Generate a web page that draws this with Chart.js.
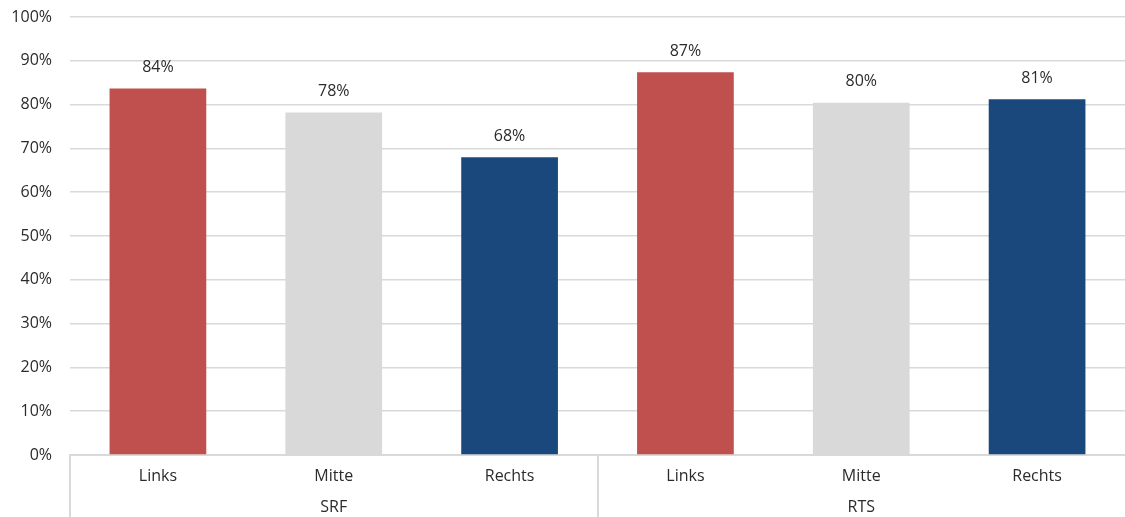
<!DOCTYPE html>
<html>
<head>
<meta charset="utf-8">
<script src="https://cdn.jsdelivr.net/npm/chart.js@4"></script>
<style>
  html, body { margin: 0; padding: 0; background: #fff; overflow: hidden; }
  canvas { display: block; }
</style>
</head>
<body>
<canvas id="barChart" width="1125" height="517"></canvas>
<script>
const groups = ["SRF", "RTS"];
const categories = ["Links", "Mitte", "Rechts", "Links", "Mitte", "Rechts"];
const shares = [83.7, 78.2, 68.0, 87.4, 80.4, 81.2];
const barColors = ["#C0504D", "#D9D9D9", "#1A487C", "#C0504D", "#D9D9D9", "#1A487C"];
const yTicks = [0, 10, 20, 30, 40, 50, 60, 70, 80, 90, 100];

const FONT = "'Open Sans', 'Noto Sans', sans-serif";
const TEXT = "#2b2b2b";
const GRID = "#D9D9D9";

// value labels above bars + two-level category axis below
const labelsPlugin = {
  id: "labels-and-groups",
  afterDatasetsDraw: (chart) => {
    const ctx = chart.ctx;
    const meta = chart.getDatasetMeta(0);
    ctx.save();
    ctx.fillStyle = TEXT;
    ctx.font = "16px " + FONT;
    ctx.textAlign = "center";
    ctx.textBaseline = "middle";
    meta.data.forEach((bar, i) => {
      ctx.fillText(Math.round(shares[i]) + "%", bar.x, bar.y - 21);
    });
    ctx.restore();
  },
  afterDraw: (chart) => {
    const ctx = chart.ctx;
    const x = chart.scales.x;
    const area = chart.chartArea;
    const step = x.getPixelForValue(1) - x.getPixelForValue(0);
    const per = categories.length / groups.length;
    ctx.save();
    ctx.fillStyle = TEXT;
    ctx.font = "16px " + FONT;
    ctx.textAlign = "center";
    ctx.textBaseline = "middle";
    categories.forEach((c, i) => {
      ctx.fillText(c, x.getPixelForValue(i), area.bottom + 21);
    });
    groups.forEach((g, gi) => {
      const first = x.getPixelForValue(gi * per) - step / 2;
      const last = x.getPixelForValue(gi * per + per - 1) + step / 2;
      ctx.fillText(g, (first + last) / 2, area.bottom + 52);
    });
    ctx.strokeStyle = GRID;
    ctx.lineWidth = 2;
    for (let gi = 0; gi < groups.length; gi++) {
      const px = Math.round(x.getPixelForValue(gi * per) - step / 2);
      ctx.beginPath();
      ctx.moveTo(px, area.bottom);
      ctx.lineTo(px, chart.height);
      ctx.stroke();
    }
    ctx.restore();
  },
};

new Chart(document.getElementById("barChart"), {
  type: "bar",
  data: {
    labels: categories,
    datasets: [{
      data: shares,
      backgroundColor: barColors,
      borderWidth: 0,
      barPercentage: 0.55,
      categoryPercentage: 1,
    }],
  },
  options: {
    responsive: false,
    animation: false,
    layout: { autoPadding: false, padding: { top: 17, right: 0, bottom: 0, left: 0 } },
    plugins: { legend: { display: false }, tooltip: { enabled: false } },
    scales: {
      x: {
        grid: { display: false },
        border: { display: true, color: GRID, width: 2 },
        ticks: { display: false },
        afterFit: (s) => {
          s.height = 62;
          s.paddingLeft = 0;
          s.paddingRight = 0;
        },
      },
      y: {
        min: 0,
        max: 100,
        afterBuildTicks: (s) => { s.ticks = yTicks.map((v) => ({ value: v })); },
        afterFit: (s) => {
          s.width = 70;
          s.paddingTop = 0;
          s.paddingBottom = 0;
        },
        grid: { color: GRID, lineWidth: 1.5, drawTicks: false },
        border: { display: false },
        ticks: {
          color: TEXT,
          padding: 18,
          font: { family: FONT, size: 16 },
          callback: (v) => v + "%",
        },
      },
    },
  },
  plugins: [labelsPlugin],
});
</script>
</body>
</html>
